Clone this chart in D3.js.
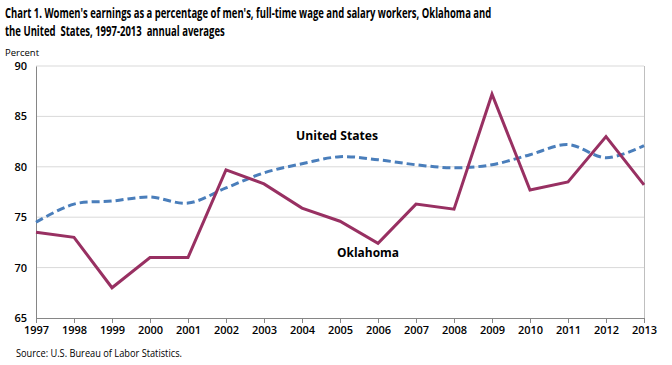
<!DOCTYPE html>
<html>
<head>
<meta charset="utf-8">
<script src="https://cdn.jsdelivr.net/npm/d3@7"></script>
<style>
  body { margin: 0; background: #fff; }
  text { font-family: "Open Sans", "Liberation Sans", sans-serif; fill: #000; }
</style>
</head>
<body>
<div id="chart"></div>
<script>
// data
var years = [1997, 1998, 1999, 2000, 2001, 2002, 2003, 2004, 2005, 2006, 2007, 2008, 2009, 2010, 2011, 2012, 2013];
var oklahoma = [73.5, 73.0, 68.0, 71.0, 71.0, 79.7, 78.3, 75.9, 74.6, 72.4, 76.3, 75.8, 87.2, 77.7, 78.5, 83.0, 78.2];
var unitedStates = [74.5, 76.3, 76.6, 77.0, 76.4, 77.9, 79.4, 80.3, 81.0, 80.7, 80.2, 79.9, 80.2, 81.2, 82.2, 80.9, 82.1];
var yTicks = [65, 70, 75, 80, 85, 90];

var titleLines = [
  "Chart 1. Women's earnings as a percentage of men's, full-time wage and salary workers, Oklahoma and",
  "the United  States, 1997-2013  annual averages"
];
var titleWidths = [487, 220];

var W = 672, H = 365;
var margin = {top: 66, right: 28, bottom: 47, left: 36},
    width = W - margin.left - margin.right,
    height = H - margin.top - margin.bottom;

var svg = d3.select("#chart").append("svg")
    .attr("width", W)
    .attr("height", H);

// title - squeeze horizontally to mimic the narrow original font
svg.selectAll(".title")
    .data(titleLines)
  .enter().append("text")
    .attr("class", "title")
    .style("font-size", "14px")
    .style("font-weight", "bold")
    .style("white-space", "pre")
    .text(function(d) { return d; })
    .attr("transform", function(d, i) {
      var len = this.getComputedTextLength();
      return "translate(5," + (18 + i * 18) + ") scale(" + (titleWidths[i] / len) + ",1)";
    });

svg.append("text")
    .attr("x", 5)
    .attr("y", 56)
    .style("font-size", "9.5px")
    .text("Percent");

var g = svg.append("g")
    .attr("transform", "translate(" + margin.left + "," + margin.top + ")");

var x = d3.scaleLinear()
    .domain([years[0], years[years.length - 1]])
    .range([0, width]);
var y = d3.scaleLinear()
    .domain([65, 90])
    .range([height, 0]);

// gridlines
g.selectAll(".grid")
    .data(yTicks.slice(1))
  .enter().append("line")
    .attr("x1", 0).attr("x2", width)
    .attr("y1", function(d) { return y(d); })
    .attr("y2", function(d) { return y(d); })
    .attr("stroke", "#d9d9d9")
    .attr("stroke-width", 1);

// right border
g.append("line")
    .attr("x1", width + 0.5).attr("x2", width + 0.5)
    .attr("y1", 0).attr("y2", height)
    .attr("stroke", "#bfbfbf");

// x axis
var xAxis = g.append("g")
    .attr("transform", "translate(0," + height + ")")
    .call(d3.axisBottom(x).tickValues(years).tickFormat(d3.format("d")).tickSize(5).tickSizeOuter(0));
xAxis.select(".domain").attr("stroke", "#868686");
xAxis.selectAll(".tick line").attr("stroke", "#868686");
xAxis.selectAll("text")
    .attr("y", 8)
    .style("font-size", "11px")
    .style("font-weight", "600")
    .style("font-family", "\"Open Sans\", sans-serif");

// y axis
var yAxis = g.append("g")
    .call(d3.axisLeft(y).tickValues(yTicks).tickSize(0));
yAxis.select(".domain").attr("stroke", "#868686");
yAxis.selectAll("text")
    .attr("x", -9)
    .style("font-size", "11px")
    .style("font-weight", "600")
    .style("font-family", "\"Open Sans\", sans-serif");

// lines
var lineOk = d3.line()
    .x(function(d, i) { return x(years[i]); })
    .y(function(d) { return y(d); });
var lineUs = d3.line()
    .x(function(d, i) { return x(years[i]); })
    .y(function(d) { return y(d); })
    .curve(d3.curveCatmullRom.alpha(0.5));

g.append("path")
    .datum(unitedStates)
    .attr("fill", "none")
    .attr("stroke", "#4a7ebb")
    .attr("stroke-width", 3)
    .attr("stroke-dasharray", "8,4")
    .attr("d", lineUs);

g.append("path")
    .datum(oklahoma)
    .attr("fill", "none")
    .attr("stroke", "#983062")
    .attr("stroke-width", 3)
    .attr("stroke-linejoin", "miter")
    .attr("d", lineOk);

// series labels
svg.append("text")
    .attr("x", 296).attr("y", 140)
    .style("font-size", "12.5px")
    .style("font-weight", "bold")
    .attr("textLength", 82)
    .attr("lengthAdjust", "spacingAndGlyphs")
    .text("United States");
svg.append("text")
    .attr("x", 337).attr("y", 257)
    .style("font-size", "12.5px")
    .style("font-weight", "bold")
    .attr("textLength", 62)
    .attr("lengthAdjust", "spacingAndGlyphs")
    .text("Oklahoma");

// source
svg.append("text")
    .attr("x", 16).attr("y", 357)
    .style("font-size", "11px")
    .attr("textLength", 166)
    .attr("lengthAdjust", "spacingAndGlyphs")
    .text("Source: U.S. Bureau of Labor Statistics.");
</script>
</body>
</html>
